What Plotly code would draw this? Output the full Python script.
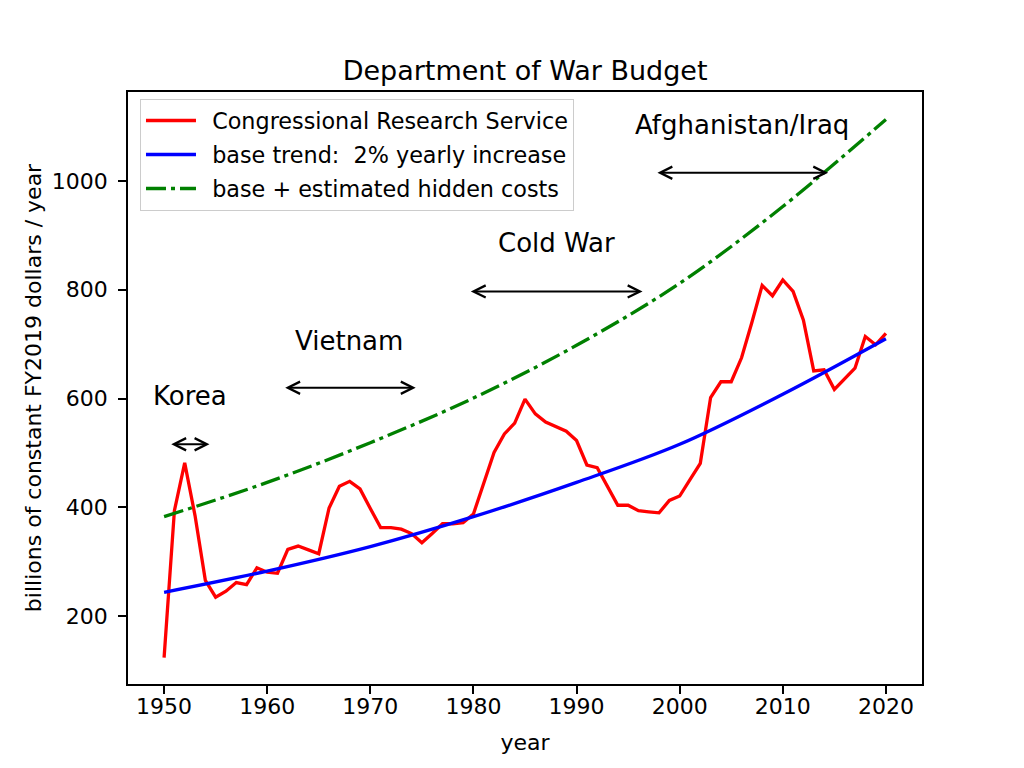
import plotly.graph_objects as go

# Congressional Research Service, billions of FY2019 dollars per year
years = list(range(1950, 2021))
crs_budget = [
    124, 394, 482, 385, 266, 235, 246, 262, 258, 289,
    281, 279, 323, 329, 322, 315, 399, 439, 448, 434,
    398, 363, 363, 360, 352, 335, 352, 370, 370, 372,
    388, 443, 501, 535, 555, 599, 572, 557, 549, 540,
    523, 478, 473, 440, 404, 404, 394, 392, 390, 413,
    421, 451, 481, 602, 631, 631, 675, 740, 808, 789,
    818, 797, 744, 651, 653, 617, 636, 656, 714, 699,
    720,
]

trend_years = [1950, 1960, 1970, 1980, 1990, 2000, 2010, 2020]
base_trend = [244, 283, 328, 383, 446, 516, 608, 710]
base_hidden = [383, 446, 519, 601, 698, 812, 953, 1113]

# war periods: label, arrow start, arrow end, arrow height, label position
wars = ["Korea", "Vietnam", "Cold War", "Afghanistan/Iraq"]
war_start = [1950.55, 1961.6, 1979.6, 1997.7]
war_end = [1954.4, 1974.4, 1996.4, 2014.4]
war_level = [516, 620, 797, 1015]
label_x = [1952.5, 1967.9, 1988.1, 2006.0]
label_y = [604, 705, 886, 1103]

black = "black"
font = "DejaVu Sans"
pad = "\u2002"  # small gap between legend line and text

fig = go.Figure()
fig.add_trace(go.Scatter(x=years, y=crs_budget, mode="lines",
                         name=pad + "Congressional Research Service", legendgroup="a",
                         line=dict(color="red", width=3.3)))
fig.add_trace(go.Scatter(x=trend_years, y=base_trend, mode="lines",
                         name=pad + "base trend:  2% yearly increase", legendgroup="b",
                         line=dict(color="blue", width=3.3, shape="spline")))
fig.add_trace(go.Scatter(x=trend_years, y=base_hidden, mode="lines",
                         name=pad + "base + estimated hidden costs", legendgroup="c",
                         line=dict(color="green", width=3.3, shape="spline",
                                   dash="20px,5px,4px,5px")))

for name, x0, x1, lvl, lx, ly in zip(wars, war_start, war_end, war_level, label_x, label_y):
    fig.add_annotation(x=x1, y=lvl, ax=x0, ay=lvl, xref="x", yref="y",
                       axref="x", ayref="y", text="", showarrow=True,
                       arrowside="end+start", arrowhead=5, startarrowhead=5,
                       arrowsize=1.2, startarrowsize=1.2, arrowwidth=2,
                       arrowcolor=black)
    fig.add_annotation(x=lx, y=ly, xref="x", yref="y", text=name, showarrow=False,
                       xanchor="center", yanchor="middle",
                       font=dict(family=font, size=26, color=black))

axis_style = dict(showline=True, linecolor=black, linewidth=1.8, mirror=True,
                  ticks="outside", ticklen=8, tickwidth=1.8, tickcolor=black,
                  showgrid=False, zeroline=False, automargin=False,
                  tickfont=dict(family=font, size=22, color=black))

# the page adds ~8px around the figure, so the figure is a bit smaller
fig.update_layout(
    width=1016, height=760,
    margin=dict(l=120, r=102, t=84, b=84),
    paper_bgcolor="white", plot_bgcolor="white",
    font=dict(family=font, size=22, color=black),
    title=dict(text="Department of War Budget", x=0.509, xanchor="center",
               y=1 - 63 / 760, yanchor="middle", yref="container",
               font=dict(family=font, size=27, color=black)),
    xaxis=dict(range=[1946.5, 2023.5], tickvals=[1950, 1960, 1970, 1980, 1990, 2000, 2010, 2020],
               ticklabelstandoff=-6,
               title=dict(text="year", standoff=16, font=dict(size=22)), **axis_style),
    yaxis=dict(range=[75.5, 1163.5], tickvals=[200, 400, 600, 800, 1000],
               ticklabelstandoff=6,
               title=dict(text="billions of constant FY2019 dollars / year", standoff=4,
                          font=dict(size=22)), **axis_style),
    legend=dict(x=0.0151, y=0.989, xanchor="left", yanchor="top",
                bgcolor="white", bordercolor="#cccccc", borderwidth=1,
                traceorder="grouped", tracegroupgap=2,
                font=dict(family=font, size=22.3, color=black), itemwidth=50),
    showlegend=True,
)

fig.write_html("out.html")
